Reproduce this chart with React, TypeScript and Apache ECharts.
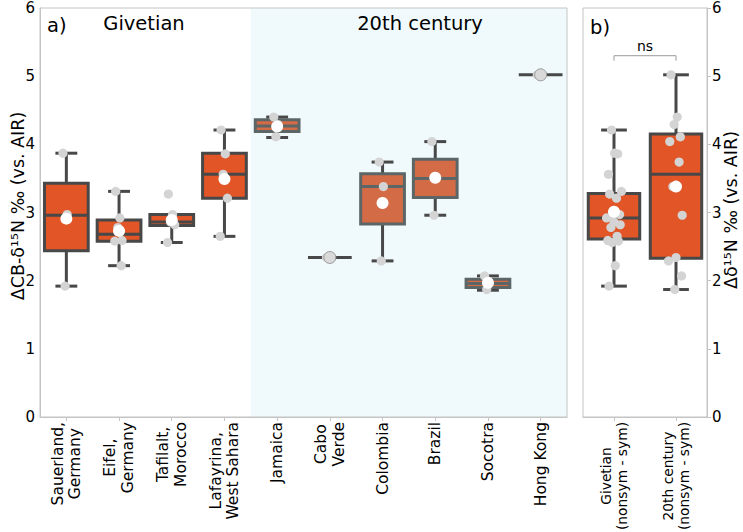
import React, { useEffect, useRef } from "react";
import * as echarts from "echarts";

// ---------- data: panel a ----------
const categoriesA = [
  "Sauerland,\nGermany",
  "Eifel,\nGermany",
  "Tafilalt,\nMorocco",
  "Lafayrina,\nWest Sahara",
  "Jamaica",
  "Cabo\nVerde",
  "Colombia",
  "Brazil",
  "Socotra",
  "Hong Kong",
];
const erasA = [
  "Givetian", "Givetian", "Givetian", "Givetian",
  "20th century", "20th century", "20th century", "20th century", "20th century", "20th century",
];
// [min (whisker), Q1, median, Q3, max (whisker)]
const boxStatsA = [
  [1.92, 2.44, 2.96, 3.43, 3.87],
  [2.22, 2.58, 2.68, 2.89, 3.31],
  [2.56, 2.81, 2.86, 2.97, 2.97],
  [2.65, 3.21, 3.56, 3.87, 4.21],
  [4.10, 4.19, 4.27, 4.36, 4.40],
  [2.34, 2.34, 2.34, 2.34, 2.34],
  [2.29, 2.83, 3.38, 3.57, 3.74],
  [2.96, 3.22, 3.50, 3.78, 4.04],
  [1.86, 1.90, 1.96, 2.02, 2.07],
  [5.02, 5.02, 5.02, 5.02, 5.02],
];
const meansA = [2.91, 2.73, 2.89, 3.49, 4.26, 2.34, 3.14, 3.51, 1.97, 5.02];
const pointsA = [
  [3.87, 2.97, 1.92],
  [3.31, 2.92, 2.78, 2.59, 2.58, 2.22],
  [3.27, 2.97, 2.86, 2.82, 2.56],
  [4.21, 3.86, 3.56, 3.21, 2.65],
  [4.40, 4.29, 4.11],
  [2.34],
  [3.74, 3.38, 2.29],
  [4.04, 3.52, 2.96],
  [2.07, 1.96, 1.87],
  [5.02],
];
const shadedFromA = 4; // Jamaica
const shadedToA = 9; // Hong Kong

// ---------- data: panel b ----------
const categoriesB = ["Givetian\n(nonsym - sym)", "20th century\n(nonsym - sym)"];
const boxStatsB = [
  [1.92, 2.61, 2.92, 3.28, 4.21],
  [1.87, 2.33, 3.56, 4.15, 5.02],
];
const meansB = [3.01, 3.38];
const pointsB = [
  [1.92, 2.22, 2.56, 2.58, 2.59, 2.65, 2.78, 2.82, 2.86, 2.92, 2.97, 2.97, 3.21, 3.27, 3.31, 3.56, 3.86, 3.87, 4.21],
  [5.02, 4.40, 4.29, 4.11, 4.04, 3.74, 3.38, 2.96, 2.34, 2.29, 2.07, 1.87],
];
const nsBracket = { from: 0, to: 1, level: 5.3, label: "ns" };

// ---------- axis ----------
const yMin = 0;
const yMax = 6;
const yStep = 1;

// ---------- styles ----------
const FONT = "DejaVu Sans";
const FILL_GIV = "#e15526";
const EDGE_GIV = "#484848";
const FILL_20 = "#d46b47";
const EDGE_20 = "#5c6666";
const WHISKER = "#484848";
const SPINE = "#c4c4c4";
const POINT = "#d4d4d4";
const SHADE = "#f0fafc";
const JITTER = [-0.08, 0.02, -0.03, 0.07, -0.1, 0.05, -0.05, 0.1, 0, -0.12, 0.09, -0.02, 0.04, -0.07, 0.12, -0.09, 0.06, 0.01, -0.04];

function boxRenderer(fills: string[], edges: string[]) {
  return (params: any, api: any) => {
    const i = api.value(0);
    const mn = api.value(1), q1 = api.value(2), md = api.value(3), q3 = api.value(4), mx = api.value(5);
    const cx = api.coord([i, md])[0];
    const band = api.size([1, 0])[0];
    const bw = band * 0.83;
    const cap = bw / 2;
    const Y = (v: number) => api.coord([i, v])[1];
    const lw = 3;
    const fill = fills[params.dataIndex];
    const edge = edges[params.dataIndex];
    const ln = (x1: number, y1: number, x2: number, y2: number, c: string) => ({
      type: "line",
      shape: { x1, y1, x2, y2 },
      style: { stroke: c, lineWidth: lw, fill: null },
    });
    const children: any[] = [];
    if (q3 - q1 < 1e-6) {
      children.push(ln(cx - bw / 2, Y(md), cx + bw / 2, Y(md), WHISKER));
      return { type: "group", children };
    }
    if (mx > q3) {
      children.push(ln(cx, Y(q3), cx, Y(mx), WHISKER));
      children.push(ln(cx - cap / 2, Y(mx), cx + cap / 2, Y(mx), WHISKER));
    }
    if (mn < q1) {
      children.push(ln(cx, Y(q1), cx, Y(mn), WHISKER));
      children.push(ln(cx - cap / 2, Y(mn), cx + cap / 2, Y(mn), WHISKER));
    }
    children.push({
      type: "rect",
      shape: { x: cx - bw / 2, y: Y(q3), width: bw, height: Y(q1) - Y(q3) },
      style: { fill, stroke: edge, lineWidth: lw },
    });
    children.push(ln(cx - bw / 2, Y(md), cx + bw / 2, Y(md), edge));
    return { type: "group", children };
  };
}

function pointRenderer(amp: number) {
  return (params: any, api: any) => {
    const i = api.value(0);
    const v = api.value(1);
    const k = api.value(2);
    const band = api.size([1, 0])[0];
    const p = api.coord([i, v]);
    return {
      type: "circle",
      shape: { cx: p[0] + JITTER[k % JITTER.length] * band * amp, cy: p[1], r: 4.6 },
      style: { fill: POINT },
    };
  };
}

function meanData(means: number[], pts: number[][]) {
  return means.map((m, i) =>
    pts[i].length === 1
      ? { value: [i, m], itemStyle: { color: "#d9d9d9", borderColor: "#9a9a9a", borderWidth: 1 } }
      : { value: [i, m] }
  );
}

export default function App() {
  const ref = useRef<HTMLDivElement>(null);
  useEffect(() => {
    if (!ref.current) return;
    const chart = echarts.init(ref.current, undefined, { renderer: "svg" });

    const fillsA = erasA.map((e) => (e === "Givetian" ? FILL_GIV : FILL_20));
    const edgesA = erasA.map((e) => (e === "Givetian" ? EDGE_GIV : EDGE_20));

    const xAxisCommon = (data: string[], gridIndex: number, fs: number, lh: number) => ({
      type: "category",
      gridIndex,
      data,
      boundaryGap: true,
      axisLine: { show: true, lineStyle: { color: SPINE, width: 1 } },
      axisTick: { show: true, alignWithLabel: true, length: 4, lineStyle: { color: SPINE } },
      axisLabel: {
        rotate: 90,
        interval: 0,
        fontSize: fs,
        lineHeight: lh,
        color: "#000",
        fontFamily: FONT,
        margin: 5,
        formatter: (v: string) => v.split("\n").map((l) => `{c|${l}}`).join("\n"),
        rich: { c: { align: "center", fontSize: fs, lineHeight: lh, fontFamily: FONT, color: "#000" } },
      },
      splitLine: { show: false },
    });

    const option: any = {
      animation: false,
      backgroundColor: "#fff",
      textStyle: { fontFamily: FONT },
      grid: [
        { left: 40, top: 8, width: 527, height: 409, show: true, borderColor: SPINE, borderWidth: 1, z: 10, containLabel: false, outerBoundsMode: "none" },
        { left: 583, top: 8, width: 124, height: 409, show: true, borderColor: SPINE, borderWidth: 1, z: 10, containLabel: false, outerBoundsMode: "none" },
      ],
      xAxis: [xAxisCommon(categoriesA, 0, 15.5, 17.5), xAxisCommon(categoriesB, 1, 13.8, 16)],
      yAxis: [
        {
          type: "value",
          gridIndex: 0,
          min: yMin,
          max: yMax,
          interval: yStep,
          axisLine: { show: true, lineStyle: { color: SPINE } },
          axisTick: { show: false },
          axisLabel: { fontSize: 15, color: "#000", fontFamily: FONT, margin: 5 },
          splitLine: { show: false },
        },
        {
          type: "value",
          gridIndex: 1,
          position: "right",
          min: yMin,
          max: yMax,
          interval: yStep,
          axisLine: { show: true, lineStyle: { color: SPINE } },
          axisTick: { show: true, length: 4, lineStyle: { color: SPINE } },
          axisLabel: { fontSize: 15, color: "#000", fontFamily: FONT, margin: 5 },
          splitLine: { show: false },
        },
      ],
      series: [
        {
          type: "custom",
          xAxisIndex: 0,
          yAxisIndex: 0,
          z: 1,
          silent: true,
          data: [[shadedFromA, shadedToA]],
          encode: { x: [0, 1] },
          renderItem: (params: any, api: any) => {
            const band = api.size([1, 0])[0];
            const x0 = api.coord([api.value(0), yMin])[0] - band / 2;
            const x1 = api.coord([api.value(1), yMin])[0] + band / 2;
            const cs = params.coordSys;
            return {
              type: "rect",
              shape: { x: x0, y: cs.y, width: x1 - x0, height: cs.height },
              style: { fill: SHADE },
            };
          },
        },
        {
          type: "custom",
          xAxisIndex: 0,
          yAxisIndex: 0,
          z: 2,
          data: boxStatsA.map((s, i) => [i, ...s]),
          encode: { x: 0, y: [1, 2, 3, 4, 5] },
          renderItem: boxRenderer(fillsA, edgesA),
        },
        {
          type: "custom",
          xAxisIndex: 0,
          yAxisIndex: 0,
          z: 3,
          data: pointsA.flatMap((vals, i) => vals.map((v, k) => [i, v, k])),
          encode: { x: 0, y: 1 },
          renderItem: pointRenderer(0.8),
        },
        {
          type: "scatter",
          xAxisIndex: 0,
          yAxisIndex: 0,
          z: 4,
          symbolSize: 12,
          itemStyle: { color: "#fff", opacity: 1 },
          data: meanData(meansA, pointsA),
        },
        {
          type: "custom",
          xAxisIndex: 1,
          yAxisIndex: 1,
          z: 2,
          data: boxStatsB.map((s, i) => [i, ...s]),
          encode: { x: 0, y: [1, 2, 3, 4, 5] },
          renderItem: boxRenderer([FILL_GIV, FILL_GIV], [EDGE_GIV, EDGE_GIV]),
        },
        {
          type: "custom",
          xAxisIndex: 1,
          yAxisIndex: 1,
          z: 3,
          data: pointsB.flatMap((vals, i) => vals.map((v, k) => [i, v, k])),
          encode: { x: 0, y: 1 },
          renderItem: pointRenderer(1.0),
        },
        {
          type: "scatter",
          xAxisIndex: 1,
          yAxisIndex: 1,
          z: 4,
          symbolSize: 12,
          itemStyle: { color: "#fff", opacity: 1 },
          data: meanData(meansB, pointsB),
        },
        {
          type: "custom",
          xAxisIndex: 1,
          yAxisIndex: 1,
          z: 5,
          silent: true,
          data: [[nsBracket.from, nsBracket.to, nsBracket.level]],
          encode: { x: [0, 1], y: 2 },
          renderItem: (params: any, api: any) => {
            const p0 = api.coord([api.value(0), api.value(2)]);
            const p1 = api.coord([api.value(1), api.value(2)]);
            return {
              type: "group",
              children: [
                {
                  type: "polyline",
                  shape: { points: [[p0[0], p0[1] + 5], [p0[0], p0[1]], [p1[0], p1[1]], [p1[0], p1[1] + 5]] },
                  style: { stroke: "#9a9a9a", lineWidth: 1, fill: null },
                },
                {
                  type: "text",
                  x: (p0[0] + p1[0]) / 2,
                  y: p0[1] - 3,
                  style: {
                    text: nsBracket.label,
                    fontSize: 14,
                    fontFamily: FONT,
                    fill: "#000",
                    align: "center",
                    verticalAlign: "bottom",
                  },
                },
              ],
            };
          },
        },
      ],
      graphic: [
        {
          type: "text",
          x: 18,
          y: 206,
          z: 100,
          rotation: Math.PI / 2,
          style: { text: "ΔCB-δ¹⁵N ‰ (vs. AIR)", fontSize: 17.5, fontFamily: FONT, fill: "#000", align: "center", verticalAlign: "middle" },
        },
        {
          type: "text",
          x: 731,
          y: 210,
          z: 100,
          rotation: Math.PI / 2,
          style: { text: "Δδ¹⁵N ‰ (vs. AIR)", fontSize: 17.5, fontFamily: FONT, fill: "#000", align: "center", verticalAlign: "middle" },
        },
        {
          type: "text",
          x: 47,
          y: 25,
          z: 100,
          style: { text: "a)", fontSize: 19.5, fontFamily: FONT, fill: "#000", align: "left", verticalAlign: "middle" },
        },
        {
          type: "text",
          x: 144,
          y: 23,
          z: 100,
          style: { text: "Givetian", fontSize: 19.5, fontFamily: FONT, fill: "#000", align: "center", verticalAlign: "middle" },
        },
        {
          type: "text",
          x: 420,
          y: 23,
          z: 100,
          style: { text: "20th century", fontSize: 19.5, fontFamily: FONT, fill: "#000", align: "center", verticalAlign: "middle" },
        },
        {
          type: "text",
          x: 590,
          y: 27,
          z: 100,
          style: { text: "b)", fontSize: 19.5, fontFamily: FONT, fill: "#000", align: "left", verticalAlign: "middle" },
        },
      ],
    };
    chart.setOption(option);
    return () => chart.dispose();
  }, []);

  return (
    <div
      ref={ref}
      style={{ position: "fixed", left: 0, top: 0, width: 743, height: 532, background: "#fff" }}
    />
  );
}
